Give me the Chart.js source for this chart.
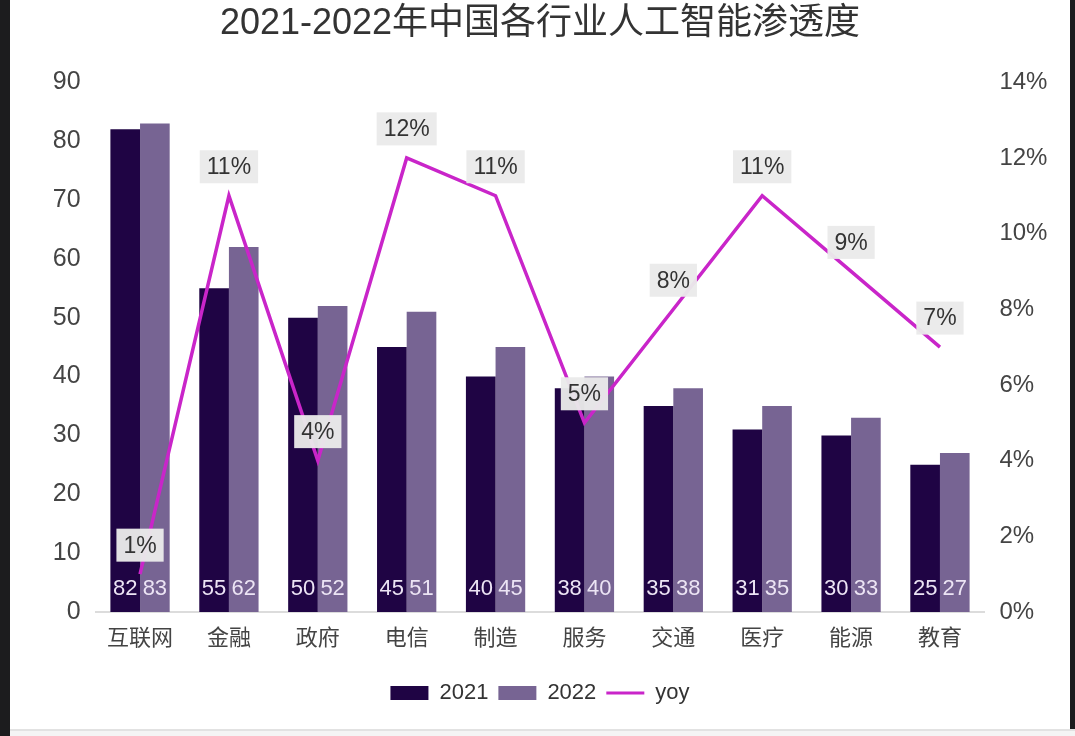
<!DOCTYPE html>
<html>
<head>
<meta charset="utf-8">
<script src="https://cdn.jsdelivr.net/npm/chart.js@4.4.1/dist/chart.umd.min.js"></script>
<style>
  html, body { margin: 0; padding: 0; background: #1c1c1e; width: 1075px; height: 736px; overflow: hidden; }
  #panel { position: absolute; left: 10px; top: 0; width: 1060px; height: 729px; background: #ffffff; }
  #bottom { position: absolute; left: 10px; top: 729px; width: 1065px; height: 7px; background: #f4f4f4; border-top: 2px solid #e2e2e2; box-sizing: border-box; }
  canvas { display: block; }
</style>
</head>
<body>
<div id="panel"><canvas id="c" width="1060" height="729"></canvas></div>
<div id="bottom"></div>
<script>
const categories = ['互联网', '金融', '政府', '电信', '制造', '服务', '交通', '医疗', '能源', '教育'];
const values2021 = [82, 55, 50, 45, 40, 38, 35, 31, 30, 25];
const values2022 = [83, 62, 52, 51, 45, 40, 38, 35, 33, 27];
const yoyValues = [1, 11, 4, 12, 11, 5, 8, 11, 9, 7];
const leftTicks = [0, 10, 20, 30, 40, 50, 60, 70, 80, 90];
const rightTicks = [0, 2, 4, 6, 8, 10, 12, 14];

const FONT = '"Liberation Sans", "Noto Sans CJK SC", Arial, sans-serif';
const C2021 = '#1f0444';
const C2022 = '#776493';
const CYOY = '#c925c9';

const labelPlugin = {
  id: 'valueLabels',
  afterDatasetsDraw(chart) {
    const ctx = chart.ctx;
    ctx.save();
    // bar value labels
    ctx.font = '22px ' + FONT;
    ctx.fillStyle = '#ece4f4';
    ctx.textAlign = 'center';
    ctx.textBaseline = 'middle';
    [0, 1].forEach(di => {
      const meta = chart.getDatasetMeta(di);
      const data = chart.data.datasets[di].data;
      meta.data.forEach((bar, i) => {
        ctx.fillText(String(data[i]), bar.x, bar.base - 23);
      });
    });
    // yoy labels
    const meta = chart.getDatasetMeta(2);
    const data = chart.data.datasets[2].data;
    ctx.font = '23px ' + FONT;
    meta.data.forEach((pt, i) => {
      const txt = data[i] + '%';
      const w = ctx.measureText(txt).width + 14;
      const h = 33;
      const cx = pt.x, cy = pt.y - 29;
      ctx.fillStyle = 'rgba(234,234,234,0.96)';
      ctx.fillRect(cx - w / 2, cy - h / 2, w, h);
      ctx.fillStyle = '#333333';
      ctx.fillText(txt, cx, cy + 1);
    });
    ctx.restore();
  }
};

new Chart(document.getElementById('c'), {
  data: {
    labels: categories,
    datasets: [
      { type: 'bar', label: '2021', data: values2021, backgroundColor: C2021, yAxisID: 'y', order: 2,
        barPercentage: 1.0, categoryPercentage: 0.667, pointStyle: 'rect' },
      { type: 'bar', label: '2022', data: values2022, backgroundColor: C2022, yAxisID: 'y', order: 2,
        barPercentage: 1.0, categoryPercentage: 0.667, pointStyle: 'rect' },
      { type: 'line', label: 'yoy', data: yoyValues, borderColor: CYOY, backgroundColor: CYOY, borderWidth: 3.5,
        yAxisID: 'y1', pointRadius: 0, tension: 0, order: 1, pointStyle: 'line' }
    ]
  },
  options: {
    responsive: false,
    animation: false,
    layout: { padding: { left: 0, right: 0, top: 0, bottom: 15 } },
    plugins: {
      title: {
        display: true,
        text: '2021-2022年中国各行业人工智能渗透度',
        color: '#333333',
        font: { family: FONT, size: 36, weight: 'normal' },
        padding: { top: 2, bottom: 37 }
      },
      legend: {
        position: 'bottom',
        labels: {
          color: '#333333',
          font: { family: FONT, size: 22 },
          usePointStyle: true,
          pointStyleWidth: 38,
          boxWidth: 38,
          boxHeight: 14,
          padding: 10,
          sort: (a, b) => a.datasetIndex - b.datasetIndex,
          generateLabels(chart) {
            const items = Chart.defaults.plugins.legend.labels.generateLabels(chart);
            items.forEach(it => {
              if (it.datasetIndex === 2) {
                it.pointStyle = 'line';
                it.strokeStyle = CYOY;
                it.fillStyle = CYOY;
                it.lineWidth = 3;
              } else {
                it.pointStyle = 'rect';
                it.lineWidth = 0;
              }
            });
            return items;
          }
        }
      },
      tooltip: { enabled: false }
    },
    scales: {
      x: {
        grid: { display: false, drawTicks: false },
        border: { display: true, color: '#dcdcdc', width: 2 },
        ticks: { color: '#444444', font: { family: FONT, size: 22 }, padding: 14 },
        afterFit(scale) { scale.height = 60; }
      },
      y: {
        position: 'left',
        min: 0, max: 90,
        grid: { display: false, drawTicks: false },
        border: { display: false },
        afterBuildTicks(scale) { scale.ticks = leftTicks.map(v => ({ value: v })); },
        ticks: { color: '#444444', font: { family: FONT, size: 25 }, padding: 15 },
        afterFit(scale) { scale.width = 85.6; }
      },
      y1: {
        position: 'right',
        min: 0, max: 14,
        grid: { display: false, drawTicks: false },
        border: { display: false },
        afterBuildTicks(scale) { scale.ticks = rightTicks.map(v => ({ value: v })); },
        ticks: { color: '#444444', font: { family: FONT, size: 24 }, padding: 15, callback: v => v + '%' },
        afterFit(scale) { scale.width = 85.6; }
      }
    }
  },
  plugins: [labelPlugin]
});
</script>
</body>
</html>
